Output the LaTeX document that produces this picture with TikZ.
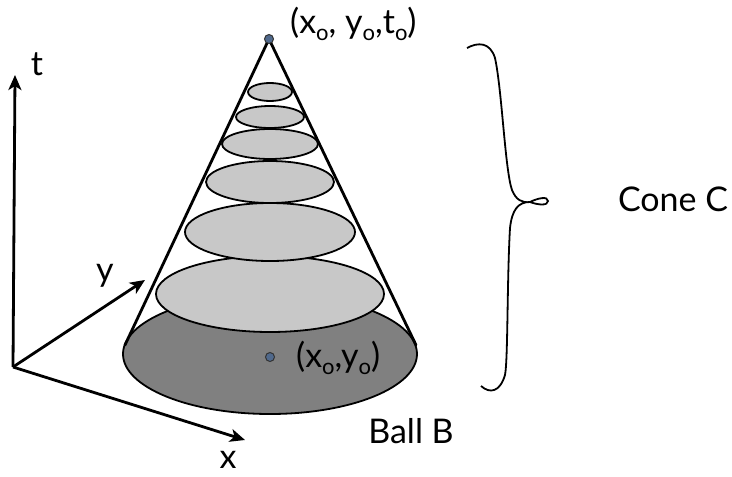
\documentclass[tikz,border=0pt]{standalone}
\usepackage{fontspec}
\setmainfont{Lato}
\usetikzlibrary{arrows.meta}
\definecolor{lightfill}{RGB}{200,200,200}
\definecolor{darkfill}{RGB}{128,128,128}
\definecolor{dotblue}{RGB}{80,105,140}
\newcommand{\subo}{\raisebox{-0.4ex}{\fontsize{22}{22}\selectfont o}}
\tikzset{
  axis/.style={line width=2.8pt, -{Stealth[length=15pt,width=13pt,inset=4pt]}},
  disc/.style={draw=black, line width=1.8pt, fill=lightfill},
  coneline/.style={line width=2.8pt, line cap=round},
  lbl/.style={font=\fontsize{34}{38}\selectfont, inner sep=0pt},
  dotnode/.style={circle, fill=dotblue, draw=black!80, line width=1pt, inner sep=0pt, minimum size=9pt}
}
\begin{document}
\begin{tikzpicture}[x=1pt,y=-1pt]
\useasboundingbox (0,0) rectangle (732,477);
% axes
\coordinate (o) at (13,367);
\coordinate (tend) at (15,75);
\coordinate (yend) at (145,280);
\coordinate (xend) at (245,440);
\draw[axis] (o) -- (tend);
\draw[axis] (o) -- (yend);
\draw[axis] (o) -- (xend);
\node[lbl] (tl) at (37,64) {t};
\node[lbl] (yl) at (105,276) {y};
\node[lbl] (xl) at (228,460) {x};
% base disc
\draw[disc, fill=darkfill] (270,354) ellipse [x radius=147, y radius=60];
% slices
\draw[disc] (270,294) ellipse [x radius=114, y radius=38];
\draw[disc] (270,232) ellipse [x radius=85, y radius=29];
\draw[disc] (270,182) ellipse [x radius=64, y radius=21];
\draw[disc] (270,144) ellipse [x radius=48, y radius=15];
\draw[disc] (270,117) ellipse [x radius=34, y radius=11];
\draw[disc] (270,92) ellipse [x radius=22, y radius=9];
% cone
\coordinate (apex) at (269,39);
\coordinate (ctl) at (125,345);
\coordinate (ctr) at (416,345);
\draw[coneline] (ctl) -- (apex) -- (ctr);
\node[dotnode] (apexdot) at (apex) {};
\node[dotnode] (basedot) at (270,357) {};
\node[lbl, anchor=west] (apexlbl) at (290,24) {(x\subo, y\subo,t\subo)};
\node[lbl, anchor=west] (baselbl) at (296,358) {(x\subo,y\subo)};
\node[lbl] (ball) at (411,431) {Ball B};
% brace
\draw[line width=1.8pt]
  (467,48) .. controls (478,42) and (490,42) .. (495,58)
  .. controls (502,90) and (505,170) .. (512,190)
  .. controls (516,200) and (522,203) .. (530,202)
  .. controls (538,198) and (548,196) .. (548,201)
  .. controls (548,206) and (538,205) .. (530,202)
  .. controls (518,202) and (512,210) .. (510,228)
  .. controls (507,280) and (508,360) .. (505,375)
  .. controls (500,392) and (490,394) .. (481,386);
\node[lbl] (cone) at (673,199) {Cone C};
\end{tikzpicture}
\end{document}
